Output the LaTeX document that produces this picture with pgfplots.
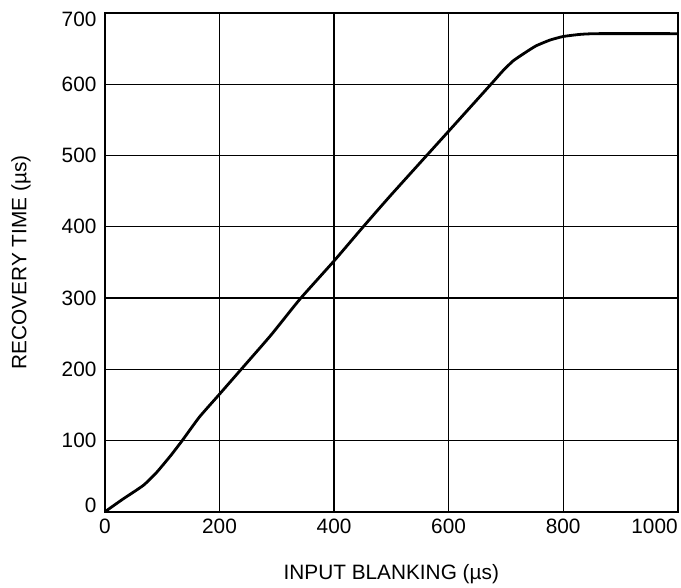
\documentclass[border=0pt]{standalone}
\usepackage{pgfplots}
\pgfplotsset{compat=1.18}
\usepackage{fontspec}
\setmainfont{Liberation Sans}

\begin{document}
\begin{tikzpicture}
\begin{axis}[
    scale only axis,
    width=573pt, height=499pt,
    xmin=0, xmax=1000,
    ymin=0, ymax=700,
    xtick={0,200,...,1000},
    ytick={0,100,...,700},
    xticklabels={0,200,400,600,800,\llap{1000}},
    yticklabels={\raisebox{6pt}[\height][\depth]{0},100,200,300,400,500,600,\raisebox{-6pt}[\height][\depth]{700}},
    major tick length=0pt,
    grid=major,
    major grid style={black, line width=1.2pt},
    axis line style={black, line width=2.2pt},
    font=\fontsize{20.8}{25}\selectfont,
    /pgf/number format/assume math mode=true,
    ticklabel style={font=\fontsize{20.8}{25}\selectfont},
    yticklabel style={xshift=-5pt},
    xticklabel style={yshift=-4pt},
    xlabel={INPUT BLANKING (µs)},
    ylabel={RECOVERY TIME (µs)},
    xlabel style={at={(axis description cs:0.5,0)}, anchor=base, yshift=-68pt},
    ylabel style={at={(axis description cs:0,0.5)}, anchor=center, yshift=84pt},
    clip=false,
]
\addplot[black, line width=2.8pt, line join=round, smooth, tension=0.3] coordinates {
    (0,0) (30,17) (67,37) (90,55) (115,79) (135,100) (165,133) (200,165)
    (238,200) (290,248) (340,298) (400,352) (451,400) (500,445) (600,534)
    (674,600) (695,619) (713,633) (735,645) (753,654) (777,662) (800,667)
    (830,670) (860,671) (1000,671)
};
\end{axis}
\path (current axis.south west) ++(-105pt,-75pt) rectangle ++(681pt,587pt);
\end{tikzpicture}
\end{document}
